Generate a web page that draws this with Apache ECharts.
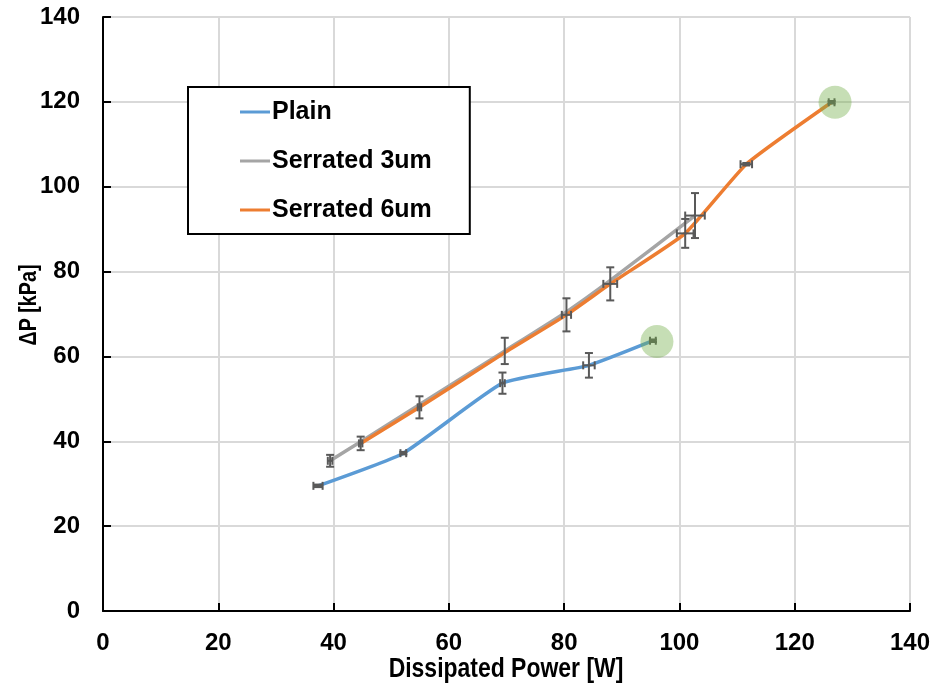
<!DOCTYPE html>
<html>
<head>
<meta charset="utf-8">
<script src="https://cdn.jsdelivr.net/npm/echarts@6/dist/echarts.min.js"></script>
<style>
  html, body { margin: 0; padding: 0; background: #fff; }
  #chart { width: 933px; height: 687px; }
</style>
</head>
<body>
<div id="chart"></div>
<script>
// Pressure drop vs dissipated power for three channel surfaces
const seriesNames = ['Plain', 'Serrated 3um', 'Serrated 6um'];
const xTitle = 'Dissipated Power [W]';
const yTitle = 'ΔP [kPa]';

const plainX    = [37.3, 52.1, 69.3, 84.3, 95.4];
const plainY    = [29.5, 37.2, 53.7, 57.9, 63.7];
const plainXErr = [0.8, 0.5, 0.4, 1.0, 0.5];
const plainYErr = [0.3, 0.3, 2.5, 2.9, 0.3];

const serr3X    = [39.4, 44.7, 69.7, 80.4, 88.0, 102.7];
const serr3Y    = [35.4, 39.9, 61.3, 70.5, 77.9, 93.2];
const serr3XErr = [0.4, 0, 0, 0, 0, 1.7];
const serr3YErr = [1.4, 0, 3.1, 0, 0, 5.3];

const serr6X    = [44.7, 54.9, 69.7, 80.4, 88.0, 101.0, 111.6, 126.4];
const serr6Y    = [39.5, 48.0, 60.9, 69.8, 77.1, 89.0, 105.3, 119.9];
const serr6XErr = [0.3, 0.3, 0, 0.8, 1.2, 1.45, 1.0, 0.5];
const serr6YErr = [1.6, 2.6, 0, 3.9, 3.9, 3.4, 0.3, 0.3];

// maximum-power points that are circled
const highlightX = [96.1, 127.0];
const highlightY = [63.5, 119.9];

const xTicks = [0, 20, 40, 60, 80, 100, 120, 140];
const yTicks = [0, 20, 40, 60, 80, 100, 120, 140];

const colors = ['#5b9bd5', '#a5a5a5', '#ed7d31'];
const errColor = '#595959';

function zip(xs, ys) { return xs.map((x, i) => [x, ys[i]]); }
function errData(xs, ys, xe, ye) { return xs.map((x, i) => [x, ys[i], xe[i], ye[i]]); }

function errorBarItem(params, api) {
  const x = api.value(0), y = api.value(1), dx = api.value(2), dy = api.value(3);
  const cap = 4;
  const children = [];
  const style = { stroke: errColor, lineWidth: 2 };
  if (dy > 0) {
    const top = api.coord([x, y + dy]);
    const bot = api.coord([x, y - dy]);
    children.push(
      { type: 'line', shape: { x1: top[0], y1: top[1], x2: bot[0], y2: bot[1] }, style },
      { type: 'line', shape: { x1: top[0] - cap, y1: top[1], x2: top[0] + cap, y2: top[1] }, style },
      { type: 'line', shape: { x1: bot[0] - cap, y1: bot[1], x2: bot[0] + cap, y2: bot[1] }, style }
    );
  }
  if (dx > 0) {
    const l = api.coord([x - dx, y]);
    const r = api.coord([x + dx, y]);
    children.push(
      { type: 'line', shape: { x1: l[0], y1: l[1], x2: r[0], y2: r[1] }, style },
      { type: 'line', shape: { x1: l[0], y1: l[1] - cap, x2: l[0], y2: l[1] + cap }, style },
      { type: 'line', shape: { x1: r[0], y1: r[1] - cap, x2: r[0], y2: r[1] + cap }, style }
    );
  }
  return { type: 'group', children };
}

function lineSeries(name, xs, ys, color, z) {
  return {
    name, type: 'line', data: zip(xs, ys), smooth: 0.15, showSymbol: false, symbol: 'none',
    lineStyle: { color, width: 3.5 }, itemStyle: { color }, z
  };
}
function errSeries(xs, ys, xe, ye) {
  return {
    type: 'custom', renderItem: errorBarItem, data: errData(xs, ys, xe, ye),
    encode: { x: 0, y: 1 }, silent: true, z: 4
  };
}

const chart = echarts.init(document.getElementById('chart'), null, { renderer: 'canvas' });

const axisFont = { fontFamily: 'Liberation Sans, Arial, sans-serif', fontWeight: 'bold', fontSize: 24, color: '#000' };
// axis titles use a condensed bold face (horizontally compressed Liberation Sans)
const titleFont = (size) => 'bold ' + size + 'px "Liberation Sans", Arial, sans-serif';

chart.setOption({
  animation: false,
  backgroundColor: '#fff',
  grid: { left: 103, right: 23, top: 17, bottom: 76, containLabel: false, outerBoundsMode: 'none' },
  legend: {
    data: seriesNames,
    orient: 'vertical',
    left: 188, top: 87,
    backgroundColor: '#fff',
    borderColor: '#000', borderWidth: 2,
    padding: [10, 38, 9, 52],
    icon: 'rect', itemWidth: 30, itemHeight: 3, itemGap: 19,
    textStyle: { fontFamily: 'Liberation Sans, Arial, sans-serif', fontWeight: 'bold', fontSize: 25, color: '#000', lineHeight: 30, padding: [0, 0, 0, -3] }
  },
  graphic: [
    {
      type: 'text', x: 506, y: 669, scaleX: 0.82, silent: true,
      style: { text: xTitle, font: titleFont(28), fill: '#000', align: 'center', verticalAlign: 'middle', textAlign: 'center', textVerticalAlign: 'middle' }
    },
    {
      type: 'text', x: 29, y: 305, rotation: Math.PI / 2, scaleX: 0.82, silent: true,
      style: { text: yTitle, font: titleFont(24), fill: '#000', align: 'center', verticalAlign: 'middle', textAlign: 'center', textVerticalAlign: 'middle' }
    }
  ],
  xAxis: {
    type: 'value', min: 0, max: 140, interval: 20,
    axisLine: { lineStyle: { color: '#000', width: 2 } },
    axisTick: { inside: true, length: 8, lineStyle: { color: '#000', width: 2 } },
    axisLabel: Object.assign({ margin: 20, formatter: v => xTicks.includes(v) ? String(v) : '' }, axisFont),
    splitLine: { show: true, lineStyle: { color: '#d9d9d9', width: 2 } }
  },
  yAxis: {
    type: 'value', min: 0, max: 140, interval: 20,
    axisLine: { show: true, lineStyle: { color: '#000', width: 2 } },
    axisTick: { show: true, inside: true, length: 8, lineStyle: { color: '#000', width: 2 } },
    axisLabel: Object.assign({ margin: 23, formatter: v => yTicks.includes(v) ? String(v) : '' }, axisFont),
    splitLine: { show: true, lineStyle: { color: '#d9d9d9', width: 2 } }
  },
  series: [
    lineSeries(seriesNames[0], plainX, plainY, colors[0], 3),
    lineSeries(seriesNames[1], serr3X, serr3Y, colors[1], 2),
    lineSeries(seriesNames[2], serr6X, serr6Y, colors[2], 3),
    errSeries(plainX, plainY, plainXErr, plainYErr),
    errSeries(serr3X, serr3Y, serr3XErr, serr3YErr),
    errSeries(serr6X, serr6Y, serr6XErr, serr6YErr),
    {
      type: 'scatter', data: zip(highlightX, highlightY), symbolSize: 33, silent: true,
      itemStyle: { color: 'rgba(112,173,71,0.5)' }, z: 5
    }
  ]
});
</script>
</body>
</html>
